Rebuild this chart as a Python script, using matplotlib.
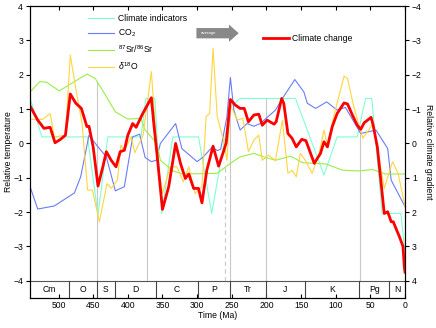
import numpy as np
import matplotlib
matplotlib.use('Agg')
import matplotlib.pyplot as plt
from matplotlib.patches import FancyArrow

# geologic periods (Ma)
period_bounds = [541, 485, 444, 419, 359, 299, 252, 201, 145, 66, 23, 0]
period_names = ['Cm', 'O', 'S', 'D', 'C', 'P', 'Tr', 'J', 'K', 'Pg', 'N']

# events (Ma) and the height each marker line reaches
event_ages = [444, 372, 260, 252, 200, 65]
event_tops = [1.8, 1.3, -0.6, 1.1, 1.3, 0.4]
event_dashed = [False, False, True, False, False, False]

# climate change (red)
cc_age = [541, 530, 521, 512, 505, 497, 490, 483, 475, 467, 459, 456, 450, 443, 436, 431,
          424, 417, 411, 405, 400, 393, 388, 379, 366, 363, 358, 350, 341, 331, 324, 317,
          312, 305, 298, 293, 286, 277, 269, 262, 258, 252, 245, 238, 232, 226, 218, 211,
          206, 199, 189, 186, 178, 175, 169, 163, 157, 149, 143, 131, 122, 117, 112, 105,
          98, 88, 83, 76, 69, 64, 59, 49, 46, 40, 35, 30, 25, 20, 17, 13, 8, 3, 1, 0]
cc_val = [1.09, 0.68, 0.44, 0.47, 0.02, 0.12, 0.24, 1.44, 1.17, 1.02, 0.49, 0.5, -0.1, -1.24,
          -0.68, -0.24, -0.49, -0.68, -0.24, -0.2, 0.24, 0.58, 0.47, 0.85, 1.33, 0.68, -0.29,
          -1.92, -1.26, 0.0, -0.58, -1.02, -0.89, -1.31, -1.31, -1.73, -0.78, -0.08, -0.66,
          -0.24, 0.02, 1.28, 1.12, 1.02, 1.02, 0.63, 0.83, 0.85, 0.53, 0.68, 0.56, 0.63, 1.31,
          1.17, 0.29, 0.15, -0.1, 0.12, 0.08, -0.58, -0.29, 0.05, -0.1, 0.49, 0.87, 1.18, 1.15,
          0.83, 0.53, 0.41, 0.6, 0.76, 0.53, -0.1, -1.07, -2.04, -1.99, -2.28, -2.28, -2.48,
          -2.72, -3.0, -3.6, -3.75]

# climate indicators (cyan)
ci_age = [541, 524, 458, 443, 429, 381, 374, 361, 351, 335, 298, 279, 252, 238, 158, 117,
          98, 69, 57, 48, 33, 6, 0]
ci_val = [1.31, 0.19, 0.19, -2.09, 0.19, 0.19, 1.31, 1.31, -2.04, 0.19, 0.19, -2.04, 1.07,
          1.31, 1.31, -0.92, 0.19, 0.19, 1.31, 1.31, -2.04, -2.04, -3.2]

# CO2 (blue)
co2_age = [541, 530, 506, 477, 468, 456, 443, 431, 418, 405, 393, 383, 375, 366, 359, 353,
           331, 322, 300, 291, 278, 271, 266, 257, 252, 247, 238, 228, 218, 209, 187, 177,
           159, 146, 141, 129, 113, 98, 86, 64, 42, 25, 20, 0]
co2_val = [-1.26, -1.91, -1.82, -1.44, -0.97, 0.24, -0.1, -0.39, -1.38, -1.26, 0.19, 0.27,
           -0.41, -0.53, -0.49, 0.0, 0.58, -0.15, -0.53, -0.39, -0.1, -0.21, -0.17, 0.78,
           1.92, 0.97, 0.39, 0.58, 0.5, 0.58, 0.97, 1.31, 1.86, 1.5, 1.17, 1.02, 1.21, 0.97,
           1.05, 0.29, 0.39, -0.15, -1.07, -1.84]

# 87Sr/86Sr (green)
sr_age = [541, 527, 517, 499, 481, 459, 447, 435, 418, 400, 381, 375, 358, 353, 334, 320,
          271, 252, 238, 218, 204, 187, 165, 148, 114, 90, 66, 47, 28, 0]
sr_val = [1.5, 1.8, 1.78, 1.53, 1.75, 2.02, 1.89, 1.5, 0.92, 0.71, 0.73, 0.39, 0.0, -0.49,
          -0.81, -0.89, -0.87, -0.58, -0.39, -0.29, -0.39, -0.49, -0.37, -0.56, -0.6, -0.78,
          -0.8, -0.76, -0.89, -0.89]

# d18O (yellow)
o18_age = [541, 523, 512, 506, 490, 483, 473, 466, 458, 451, 441, 430, 424, 415, 410, 405,
           395, 390, 378, 366, 361, 356, 350, 339, 329, 320, 312, 303, 293, 287, 282, 277,
           271, 262, 257, 252, 242, 234, 226, 218, 211, 206, 197, 187, 177, 169, 163, 157,
           151, 144, 134, 124, 117, 112, 103, 88, 83, 74, 61, 46, 30, 18, 10, 0]
o18_val = [0.7, 0.7, 0.87, 0.19, 0.24, 2.57, 1.36, 0.58, -1.36, -1.36, -2.28, -1.17, -1.31,
           -1.07, -0.05, -0.2, 0.19, -0.27, 0.24, 2.09, 0.68, -0.68, -1.46, -0.68, -0.68,
           -1.12, -0.68, -1.46, -1.26, 0.78, 0.87, 2.77, 0.78, 0.1, -0.49, 1.12, 0.68, 0.73,
           -0.24, 0.1, 0.24, -0.49, -0.34, -0.5, 0.68, -0.87, -0.78, -0.97, -0.29, -0.49,
           -0.87, -0.29, 0.39, -0.05, 0.78, 1.96, 1.89, 1.07, 0.15, 0.58, -1.31, -0.53, -0.87,
           -1.84]

plt.rcParams['font.family'] = ['Liberation Sans', 'DejaVu Sans']
plt.rcParams['mathtext.fontset'] = 'custom'
plt.rcParams['mathtext.rm'] = 'Liberation Sans'
plt.rcParams['mathtext.it'] = 'Liberation Sans:italic'
fs = 6.2

fig = plt.figure(figsize=(4.36, 3.28), dpi=100)
ax = fig.add_axes([0.069, 0.0915, 0.86, 0.89])

# event marker lines
for age, top, dashed in zip(event_ages, event_tops, event_dashed):
    ax.plot([age, age], [-4, top], color='#c8c8c8', lw=0.8,
            ls=(0, (4, 3)) if dashed else '-', zorder=1)

l1, = ax.plot(ci_age, ci_val, color='#7fffd4', lw=0.8, zorder=2)
l2, = ax.plot(co2_age, co2_val, color='#6a7df5', lw=0.8, zorder=2)
l3, = ax.plot(sr_age, sr_val, color='#99ee44', lw=0.8, zorder=2)
l4, = ax.plot(o18_age, o18_val, color='#ffd53e', lw=0.8, zorder=2)
l5, = ax.plot(cc_age, cc_val, color='#ff0000', lw=2.0, zorder=3)

# geologic period bar
ax.axhline(-4, color='#555555', lw=0.8)
for b in period_bounds[1:-1]:
    ax.plot([b, b], [-4.5, -4], color='#444444', lw=0.8)
for i, name in enumerate(period_names):
    mid = (period_bounds[i] + period_bounds[i + 1]) / 2
    ax.text(mid, -4.25, name, ha='center', va='center', fontsize=fs)

# "average" arrow
ax.add_patch(FancyArrow(301, 3.21, -47, 0, width=0.3, head_width=0.5, head_length=14,
                        length_includes_head=False, color='#888888', lw=0))
ax.text(283, 3.21, 'average', color='white', fontsize=3.2, ha='center', va='center')

ax.set_xlim(541, 0)
ax.set_ylim(-4.5, 4)
ax.set_xticks(np.arange(0, 501, 50))
ax.set_yticks(np.arange(-4, 5, 1))
ax.tick_params(axis='x', direction='in', top=True, labelsize=fs, length=3, pad=2)
ax.tick_params(axis='y', direction='out', labelsize=fs, length=3, pad=2)
ax.set_xlabel('Time (Ma)', fontsize=fs, labelpad=1)
ax.set_ylabel('Relative temperature', fontsize=fs, labelpad=0)

ax2 = ax.twinx()
ax2.set_ylim(4.5, -4)
ax2.set_yticks(np.arange(-4, 5, 1))
ax2.tick_params(axis='y', direction='out', labelsize=fs, length=3, pad=2)
ax2.set_ylabel('Relative climate gradient', fontsize=fs, rotation=270, labelpad=8)

leg1 = ax.legend([l1, l2, l3, l4],
                 ['Climate indicators', 'CO$_2$', '$^{87}$Sr/$^{86}$Sr', '$\\delta^{18}$O'],
                 loc='upper left', bbox_to_anchor=(0.135, 1.0), frameon=False, fontsize=fs,
                 handlelength=3.0, handletextpad=0.4, labelspacing=0.55)
ax.add_artist(leg1)
ax.legend([l5], ['Climate change'], loc='upper left', bbox_to_anchor=(0.6, 0.93),
          frameon=False, fontsize=fs, handlelength=3.0, handletextpad=0.4)

fig.savefig('out.png', dpi=100)
